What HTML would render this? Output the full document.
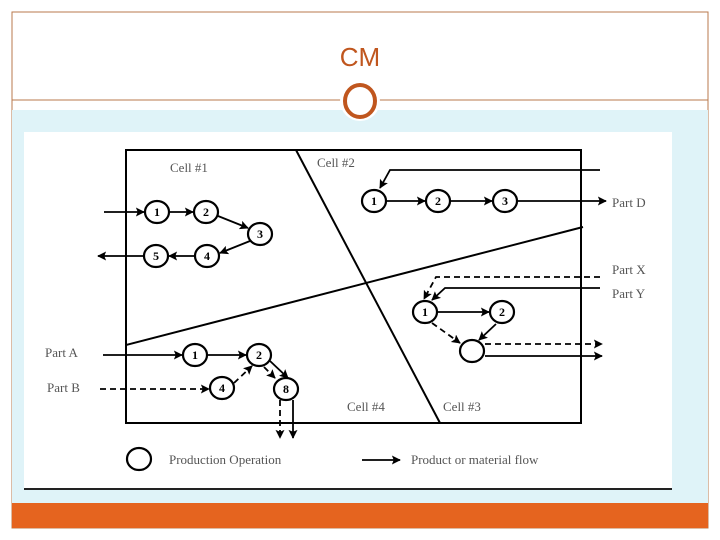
<!DOCTYPE html>
<html><head><meta charset="utf-8"><style>
body{margin:0;width:720px;height:540px;background:#fff;overflow:hidden}
svg{display:block}
</style></head><body>
<svg width="720" height="540" viewBox="0 0 720 540" xmlns="http://www.w3.org/2000/svg">
<defs>
<marker id="a" viewBox="0 0 10 10" refX="9" refY="5" markerWidth="13" markerHeight="9" markerUnits="userSpaceOnUse" orient="auto"><path d="M0,0 L10,5 L0,10 L2,5 z" fill="#000"/></marker>
</defs>
<rect x="12" y="12" width="696" height="516" fill="none" stroke="#b87a4c" stroke-width="1"/>
<rect x="12" y="110" width="696" height="393" fill="#dff3f8"/>
<line x1="12" y1="100" x2="708" y2="100" stroke="#b87a4c" stroke-width="1"/>
<rect x="24" y="132" width="648" height="357" fill="#fff"/>
<line x1="24" y1="489" x2="672" y2="489" stroke="#222" stroke-width="2"/>
<rect x="12" y="503" width="696" height="25" fill="#e5641f"/>
<text x="360" y="66" text-anchor="middle" font-family="Liberation Sans, sans-serif" font-size="26" fill="#c0561e">CM</text>
<circle cx="360" cy="101" r="20" fill="#fff"/>
<ellipse cx="360" cy="101" rx="15" ry="16" fill="none" stroke="#c0561e" stroke-width="4"/>

<g font-family="Liberation Serif, serif" fill="#000">
<rect x="126" y="150" width="455" height="273" fill="none" stroke="#000" stroke-width="2"/>
<line x1="296" y1="150" x2="440" y2="423" stroke="#000" stroke-width="2"/>
<line x1="126" y1="345" x2="583" y2="227" stroke="#000" stroke-width="2"/>
<g font-size="13" fill="#555">
<text x="170" y="172">Cell #1</text>
<text x="317" y="167">Cell #2</text>
<text x="347" y="411">Cell #4</text>
<text x="443" y="411">Cell #3</text>
<text x="612" y="207">Part D</text>
<text x="612" y="274">Part X</text>
<text x="612" y="298">Part Y</text>
<text x="45" y="357">Part A</text>
<text x="47" y="392">Part B</text>
<text x="169" y="464">Production Operation</text>
<text x="411" y="464">Product or material flow</text>
</g>
<g stroke="#000" stroke-width="1.8" fill="none" marker-end="url(#a)">
<line x1="104" y1="212" x2="144" y2="212"/>
<line x1="169" y1="212" x2="193" y2="212"/>
<line x1="218" y1="216" x2="248" y2="228"/>
<line x1="250" y1="241" x2="220" y2="253"/>
<line x1="195" y1="256" x2="169" y2="256"/>
<line x1="143" y1="256" x2="98" y2="256"/>
<polyline points="600,170 390,170 380,188"/>
<line x1="386" y1="201" x2="425" y2="201"/>
<line x1="451" y1="201" x2="492" y2="201"/>
<line x1="517" y1="201" x2="606" y2="201"/>
<polyline points="600,288 445,288 432,300"/>
<line x1="437" y1="312" x2="489" y2="312"/>
<line x1="496" y1="324" x2="479" y2="340"/>
<line x1="485" y1="356" x2="602" y2="356"/>
<line x1="103" y1="355" x2="182" y2="355"/>
<line x1="207" y1="355" x2="246" y2="355"/>
<line x1="270" y1="361" x2="288" y2="378"/>
<line x1="293" y1="400" x2="293" y2="438"/>
<line x1="362" y1="460" x2="400" y2="460"/>
</g>
<g stroke="#000" stroke-width="1.8" fill="none" stroke-dasharray="6,4" marker-end="url(#a)">
<polyline points="600,277 436,277 424,299"/>
<line x1="432" y1="323" x2="460" y2="343"/>
<line x1="485" y1="344" x2="602" y2="344"/>
<line x1="100" y1="389" x2="209" y2="389"/>
<line x1="234" y1="383" x2="252" y2="366"/>
<line x1="264" y1="367" x2="275" y2="378"/>
<line x1="280" y1="400" x2="280" y2="438"/>
</g>
<g stroke="#000" stroke-width="2.2" fill="#fff">
<ellipse cx="157" cy="212" rx="12" ry="11"/>
<ellipse cx="206" cy="212" rx="12" ry="11"/>
<ellipse cx="260" cy="234" rx="12" ry="11"/>
<ellipse cx="207" cy="256" rx="12" ry="11"/>
<ellipse cx="156" cy="256" rx="12" ry="11"/>
<ellipse cx="374" cy="201" rx="12" ry="11"/>
<ellipse cx="438" cy="201" rx="12" ry="11"/>
<ellipse cx="505" cy="201" rx="12" ry="11"/>
<ellipse cx="425" cy="312" rx="12" ry="11"/>
<ellipse cx="502" cy="312" rx="12" ry="11"/>
<ellipse cx="472" cy="351" rx="12" ry="11"/>
<ellipse cx="195" cy="355" rx="12" ry="11"/>
<ellipse cx="259" cy="355" rx="12" ry="11"/>
<ellipse cx="222" cy="388" rx="12" ry="11"/>
<ellipse cx="286" cy="389" rx="12" ry="11"/>
<ellipse cx="139" cy="459" rx="12" ry="11"/>
</g>
<g font-size="12" font-weight="bold" text-anchor="middle">
<text x="157" y="216">1</text><text x="206" y="216">2</text><text x="260" y="238">3</text>
<text x="207" y="260">4</text><text x="156" y="260">5</text>
<text x="374" y="205">1</text><text x="438" y="205">2</text><text x="505" y="205">3</text>
<text x="425" y="316">1</text><text x="502" y="316">2</text>
<text x="195" y="359">1</text><text x="259" y="359">2</text><text x="222" y="392">4</text><text x="286" y="393">8</text>
</g>
</g>
</svg>
</body></html>
